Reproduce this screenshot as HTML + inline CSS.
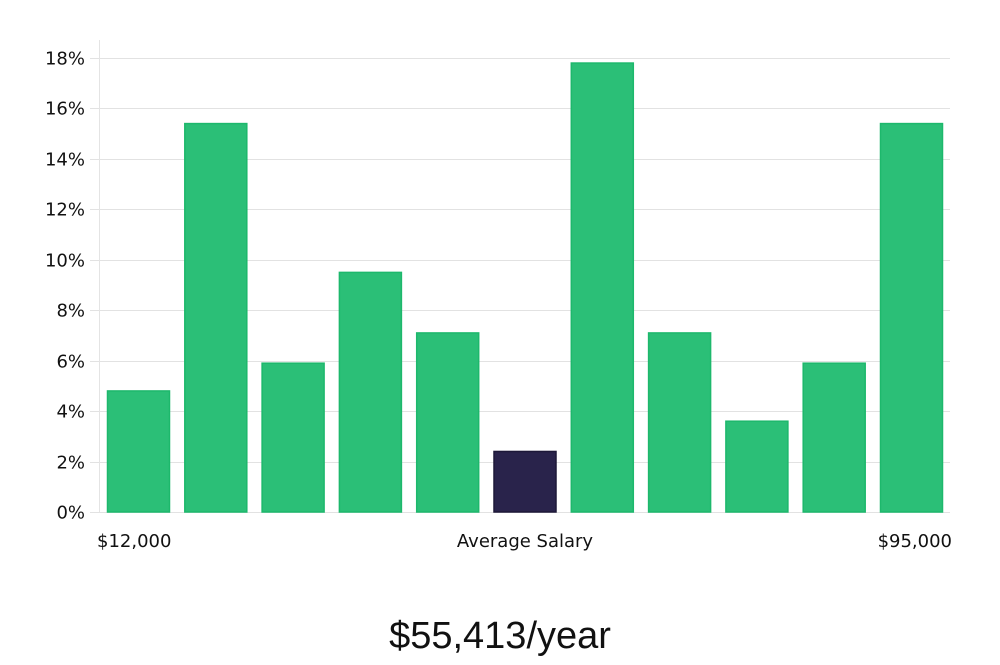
<!DOCTYPE html>
<html>
<head>
<meta charset="utf-8">
<style>
  html,body{margin:0;padding:0;background:#fff;}
  body{width:1000px;height:660px;overflow:hidden;font-family:"Liberation Sans","DejaVu Sans",sans-serif;}
  svg text{font-family:"DejaVu Sans","Liberation Sans",sans-serif;}
</style>
</head>
<body>
<svg id="chart" width="1000" height="660" viewBox="0 0 1000 660" xmlns="http://www.w3.org/2000/svg">
  <g id="grid"></g>
  <g id="yticks"></g>
  <g id="bars"></g>
  <line x1="99.5" y1="40" x2="99.5" y2="512" stroke="#e4e4e4" stroke-width="1"/>
  <text x="97" y="547" font-size="18" fill="#111">$12,000</text>
  <text x="525" y="547" font-size="18" fill="#111" text-anchor="middle">Average Salary</text>
  <text x="952" y="547" font-size="18" fill="#111" text-anchor="end">$95,000</text>
  <text x="500" y="648" font-size="38" fill="#111" text-anchor="middle" style="font-family:'Liberation Sans Narrow','Liberation Sans',sans-serif;font-weight:300">$55,413/year</text>
</svg>
<script>
const values = [4.8, 15.4, 5.9, 9.5, 7.1, 2.4, 17.8, 7.1, 3.6, 5.9, 15.4];
const highlightIndex = [5];
const yTicks = [0, 2, 4, 6, 8, 10, 12, 14, 16, 18];
const yTickLabels = ["0%","2%","4%","6%","8%","10%","12%","14%","16%","18%"];

const NS = "http://www.w3.org/2000/svg";
const plotLeft = 99, plotRight = 950, y0 = 512, yTop = 58, yMax = 18;
const yScale = v => y0 - (v / yMax) * (y0 - yTop);
const step = (943 - 107) / values.length;
const barW = 63;
const xScale = i => 107 + i * ((943 - 107 - barW) / (values.length - 1));

const grid = document.getElementById('grid');
const yt = document.getElementById('yticks');
yTicks.forEach((t, i) => {
  const y = Math.round(yScale(t)) + 0.5;
  const l = document.createElementNS(NS, 'line');
  
  
  l.setAttribute('x1', 90); l.setAttribute('x2', plotRight);
  l.setAttribute('y1', y); l.setAttribute('y2', y);
  l.setAttribute('stroke', '#e2e2e2');
  grid.appendChild(l);
  const tx = document.createElementNS(NS, 'text');
  
  
  tx.setAttribute('x', 85); tx.setAttribute('y', y + 6);
  tx.setAttribute('text-anchor', 'end');
  tx.setAttribute('font-size', '18');
  tx.setAttribute('fill', '#111');
  tx.textContent = yTickLabels[i];
  yt.appendChild(tx);
});

const bars = document.getElementById('bars');
values.forEach((v, i) => {
  const r = document.createElementNS(NS, 'rect');
  
  
  const hi = highlightIndex.includes(i);
  const top = yScale(v);
  r.setAttribute('x', xScale(i) + 0.5);
  r.setAttribute('y', top);
  r.setAttribute('width', barW - 1);
  r.setAttribute('height', y0 - top);
  r.setAttribute('fill', hi ? '#29234b' : '#2bbf77');
  r.setAttribute('stroke', hi ? '#1d1838' : '#1db86c');
  r.setAttribute('stroke-width', '1.5');
  bars.appendChild(r);
});
</script>
</body>
</html>
